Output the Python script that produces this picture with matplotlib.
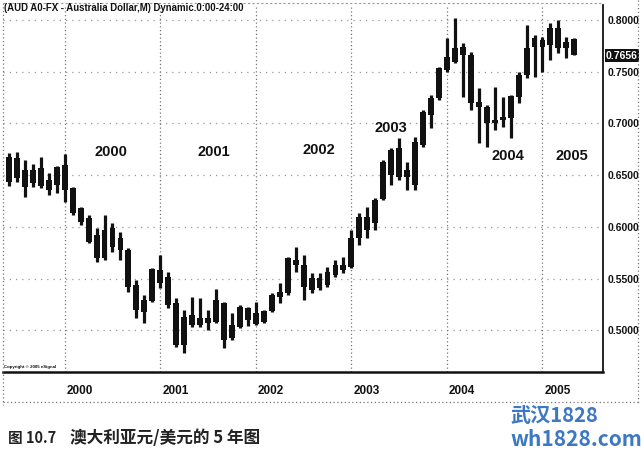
"""AUD/USD monthly candles 1999-2005 (eSignal style scan)."""
import matplotlib
matplotlib.use("Agg")
import matplotlib.pyplot as plt
from matplotlib.lines import Line2D

plt.rcParams["font.family"] = ["Liberation Sans", "DejaVu Sans"]

# ── Data: monthly bars, Jun 1999 .. May 2005 ───────────────────────────────
opens = [0.6675, 0.6472, 0.6550, 0.6424, 0.6569, 0.6453, 0.6404, 0.6598, 0.6375, 0.6182,
         0.6085, 0.5921, 0.5699, 0.5989, 0.5892, 0.5776, 0.5437, 0.5292, 0.5283, 0.5583,
         0.5515, 0.5263, 0.4857, 0.5147, 0.5051, 0.5118, 0.5080, 0.5263, 0.4925, 0.5031,
         0.5215, 0.5167, 0.5080, 0.5186, 0.5321, 0.5360, 0.5679, 0.5631, 0.5389, 0.5505,
         0.5437, 0.5534, 0.5583, 0.5612, 0.5892, 0.6095, 0.6037, 0.6269, 0.6743, 0.6482,
         0.6550, 0.6404, 0.6791, 0.7081, 0.7246, 0.7516, 0.7594, 0.7739, 0.7662, 0.7207,
         0.7159, 0.7004, 0.7033, 0.7052, 0.7255, 0.7468, 0.7739, 0.7807, 0.7758, 0.7923,
         0.7729, 0.7816]
highs = [0.6714, 0.6724, 0.6646, 0.6608, 0.6675, 0.6520, 0.6588, 0.6704, 0.6385, 0.6192,
         0.6114, 0.5989, 0.6114, 0.6037, 0.5950, 0.5795, 0.5486, 0.5341, 0.5602, 0.5728,
         0.5563, 0.5312, 0.5196, 0.5321, 0.5312, 0.5196, 0.5399, 0.5273, 0.5167, 0.5244,
         0.5225, 0.5273, 0.5196, 0.5360, 0.5457, 0.5708, 0.5805, 0.5728, 0.5554, 0.5554,
         0.5612, 0.5679, 0.5708, 0.5969, 0.6134, 0.6192, 0.6279, 0.6646, 0.6762, 0.6859,
         0.6627, 0.6869, 0.7130, 0.7275, 0.7545, 0.7826, 0.8019, 0.7778, 0.7691, 0.7342,
         0.7178, 0.7352, 0.7255, 0.7275, 0.7497, 0.7952, 0.7855, 0.7836, 0.7971, 0.8000,
         0.7836, 0.7826]
lows = [0.6395, 0.6433, 0.6288, 0.6385, 0.6375, 0.6308, 0.6327, 0.6240, 0.6114, 0.6018,
        0.5844, 0.5660, 0.5679, 0.5757, 0.5679, 0.5370, 0.5118, 0.5070, 0.5273, 0.5408,
        0.5215, 0.4838, 0.4780, 0.5031, 0.5031, 0.5002, 0.5070, 0.4828, 0.4906, 0.5022,
        0.5041, 0.5051, 0.5070, 0.5176, 0.5263, 0.5341, 0.5563, 0.5292, 0.5360, 0.5389,
        0.5418, 0.5515, 0.5554, 0.5602, 0.5824, 0.5892, 0.5969, 0.6259, 0.6404, 0.6453,
        0.6356, 0.6356, 0.6772, 0.6956, 0.7226, 0.7497, 0.7584, 0.7255, 0.7130, 0.6811,
        0.6772, 0.6936, 0.6965, 0.6859, 0.7197, 0.7439, 0.7449, 0.7497, 0.7613, 0.7681,
        0.7633, 0.7662]
closes = [0.6433, 0.6666, 0.6385, 0.6550, 0.6395, 0.6356, 0.6578, 0.6356, 0.6134, 0.6047,
          0.5853, 0.5699, 0.5969, 0.5805, 0.5776, 0.5418, 0.5196, 0.5176, 0.5592, 0.5457,
          0.5244, 0.4857, 0.5128, 0.5051, 0.5118, 0.5070, 0.5292, 0.4906, 0.5051, 0.5225,
          0.5099, 0.5060, 0.5186, 0.5341, 0.5370, 0.5699, 0.5631, 0.5418, 0.5505, 0.5408,
          0.5563, 0.5631, 0.5631, 0.5892, 0.6095, 0.5969, 0.6259, 0.6627, 0.6501, 0.6762,
          0.6482, 0.6820, 0.7110, 0.7246, 0.7536, 0.7642, 0.7729, 0.7662, 0.7197, 0.7159,
          0.7004, 0.7033, 0.7062, 0.7265, 0.7468, 0.7729, 0.7826, 0.7739, 0.7923, 0.7729,
          0.7787, 0.7662]

years = ["2000", "2001", "2002", "2003", "2004", "2005"]
year_start = [7, 19, 31, 43, 55, 67]          # bar index of each January
price_ticks = [0.50, 0.55, 0.60, 0.65, 0.70, 0.75, 0.80]
last_price = "0.7656"

# in-chart year labels (bar index, price)
year_lbl_pos = [(12.8, 0.6724), (25.75, 0.6724), (38.9, 0.6743),
                (47.9, 0.6956), (62.7, 0.6685), (70.7, 0.6685)]

# ── Figure ──────────────────────────────────────────────────────────────────
W, H = 641, 455
fig = plt.figure(figsize=(W / 100, H / 100), dpi=100)
fig.patch.set_facecolor("white")

def fx(px):
    return px / W

def fy(py):
    return 1 - py / H

ax = fig.add_axes([fx(3), fy(372), fx(600), 367 / H])
ax.set_xlim(-0.75, 74.6)
ax.set_ylim(0.4596, 0.8145)

# grid
for p in price_ticks:
    ax.axhline(p, color="#9a9a9a", lw=0.9, ls=(0, (1, 4)), zorder=0)
for i in year_start:
    ax.axvline(i, color="#777777", lw=0.9, ls=(0, (1, 2)), zorder=0)

# candles
idx = list(range(len(opens)))
ax.vlines(idx, lows, highs, color="#111111", lw=2.3, zorder=3)
bot = [min(o, c) for o, c in zip(opens, closes)]
hgt = [max(abs(c - o), 0.003) for o, c in zip(opens, closes)]
ax.bar(idx, hgt, bottom=bot, width=0.74, color="#111111", zorder=4)

# spines
for s in ["left", "top"]:
    ax.spines[s].set_visible(False)
ax.spines["bottom"].set_linewidth(1.8)
ax.spines["bottom"].set_color("#111111")
ax.spines["right"].set_linewidth(1.3)
ax.spines["right"].set_color("#111111")

ax.yaxis.tick_right()
ax.set_yticks(price_ticks)
ax.set_yticklabels([f"{p:.4f}" for p in price_ticks], fontsize=7.5,
                   fontweight="bold", color="#111111")
ax.tick_params(axis="y", length=0, pad=3)

ax.set_xticks([i + 1.9 for i in year_start])
ax.set_xticklabels(years, fontsize=8.5, fontweight="bold", color="#111111")
ax.tick_params(axis="x", length=0, pad=9)

for (xi, yp), lbl in zip(year_lbl_pos, years):
    ax.text(xi, yp, lbl, ha="center", va="center", fontsize=10.5,
            fontweight="bold", color="#111111", zorder=5)

# last price box
ax.text(1.005, (0.7656 - 0.4596) / (0.8145 - 0.4596), last_price,
        transform=ax.transAxes, ha="left", va="center", fontsize=7.5,
        fontweight="bold", color="white", zorder=6,
        bbox=dict(boxstyle="square,pad=0.12", facecolor="#111111", edgecolor="none"))

# title and copyright
fig.text(fx(4), fy(8), "(AUD A0-FX - Australia Dollar,M) Dynamic.0:00-24:00",
         ha="left", va="center", fontsize=6.9, fontweight="bold", color="#111111")
fig.text(fx(4), fy(367), "Copyright \u00a9 2005 eSignal", ha="left", va="center",
         fontsize=3.2, fontweight="bold", color="#111111")

# frame lines around chart and axis band
dot = dict(color="#777777", lw=0.9, ls=(0, (1, 2)))
fig.add_artist(Line2D([fx(3), fx(3)], [fy(3), fy(405)], **dot))
fig.add_artist(Line2D([fx(638), fx(638)], [fy(0), fy(405)], **dot))
fig.add_artist(Line2D([fx(3), fx(638)], [fy(402), fy(402)], **dot))
fig.add_artist(Line2D([fx(3), fx(603)], [fy(3), fy(3)], color="#999999", lw=0.8,
                      ls=(0, (2, 2))))

# caption and watermark
cjk = ["Noto Sans CJK SC", "DejaVu Sans"]
fig.text(fx(8), fy(438), "图 10.7", ha="left", va="center",
         fontsize=10.5, fontweight="bold", family=cjk, color="#222222")
fig.text(fx(70), fy(438), "澳大利亚元/美元的 5 年图", ha="left", va="center",
         fontsize=12, fontweight="bold", family=cjk, color="#222222")
fig.text(fx(510), fy(415), "武汉1828", ha="left", va="center", fontsize=14.5,
         fontweight="bold", family=cjk, color="#3d78c2")
fig.text(fx(510), fy(440), "wh1828.com", ha="left", va="center", fontsize=15,
         fontweight="bold", family=cjk, color="#3d78c2")

fig.savefig("out.png", dpi=100, facecolor="white")
plt.close(fig)
